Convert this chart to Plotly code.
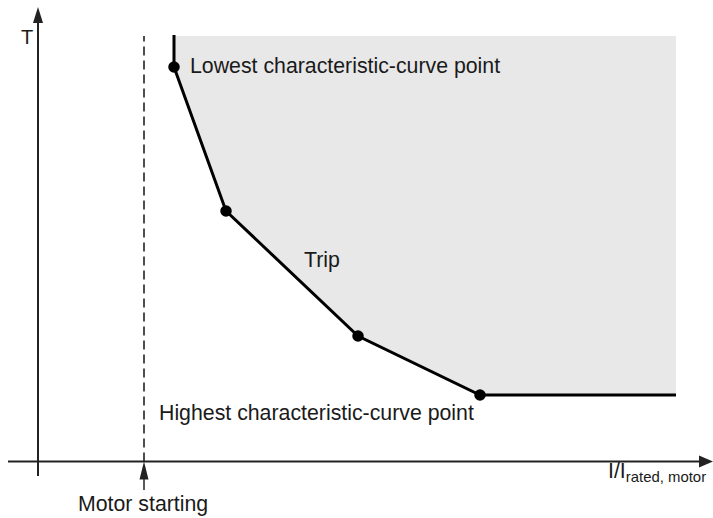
import plotly.graph_objects as go

# ---- data (schematic units; x = I/I_rated,motor, y = T) ----
curve_i = [174, 174, 226, 358, 480, 676]      # characteristic curve, current axis
curve_t = [483, 451, 307, 182, 123, 123]      # characteristic curve, time axis
point_i = [174, 226, 358, 480]                # characteristic-curve points
point_t = [451, 307, 182, 123]
trip_top_t = 482                              # upper limit of trip region
trip_right_i = 676                            # right limit of trip region
motor_start_i = 144                           # motor starting current

labels = {
    "lowest": "Lowest characteristic-curve point",
    "highest": "Highest characteristic-curve point",
    "trip": "Trip",
    "motor": "Motor starting",
    "t": "T",
    "i": "I/I<sub>rated, motor</sub>",
}

# ---- layout geometry ----
W, H = 713, 518
X0 = 38          # y-axis position
Y0 = 56.5        # x-axis position
FONT = "Liberation Sans, Arial, sans-serif"
TXT = "#1a1a1a"
AX = "#222222"

fig = go.Figure()

# trip region (grey)
fill_x = [curve_i[0]] + curve_i[1:] + [trip_right_i, trip_right_i]
fill_y = [trip_top_t] + curve_t[1:] + [curve_t[-1], trip_top_t]
fig.add_trace(go.Scatter(x=fill_x, y=fill_y, fill="toself", mode="none",
                         fillcolor="#e8e8e8", hoverinfo="skip", showlegend=False))

# curve
fig.add_trace(go.Scatter(x=curve_i, y=curve_t, mode="lines",
                         line=dict(color="#000000", width=3), showlegend=False))
# points
fig.add_trace(go.Scatter(x=point_i, y=point_t, mode="markers",
                         marker=dict(color="#000000", size=11.5), showlegend=False))

shapes = []
# axes lines
shapes.append(dict(type="line", x0=X0, x1=X0, y0=42, y1=497,
                   line=dict(color=AX, width=2)))
shapes.append(dict(type="line", x0=8, x1=701, y0=Y0, y1=Y0,
                   line=dict(color=AX, width=2)))
# axis arrowheads
shapes.append(dict(type="path", path=f"M {X0} 511 L {X0-5} 495 L {X0+5} 495 Z",
                   fillcolor=AX, line=dict(width=0)))
shapes.append(dict(type="path", path=f"M 713 {Y0} L 699 {Y0-6} L 699 {Y0+6} Z",
                   fillcolor=AX, line=dict(width=0)))
# dashed motor-starting line
shapes.append(dict(type="line", x0=motor_start_i, x1=motor_start_i, y0=Y0, y1=trip_top_t,
                   line=dict(color="#222222", width=1.6, dash="9px,5px")))
# motor starting arrow
shapes.append(dict(type="line", x0=motor_start_i, x1=motor_start_i, y0=28, y1=42,
                   line=dict(color=AX, width=1.5)))
shapes.append(dict(type="path",
                   path=f"M {motor_start_i} {Y0} L {motor_start_i-4.5} {Y0-18} L {motor_start_i+4.5} {Y0-18} Z",
                   fillcolor=AX, line=dict(width=0)))

ann = []
def txt(x, y, s, size=21.3):
    ann.append(dict(x=x, y=y, text=s, showarrow=False, xanchor="left", yanchor="middle",
                    font=dict(family=FONT, size=size, color=TXT)))

txt(188, 518 - 66, labels["lowest"])
txt(302, 518 - 260, labels["trip"])
txt(157, 518 - 413, labels["highest"])
txt(19, 518 - 37, labels["t"], 20)
txt(76, 518 - 504, labels["motor"])
txt(606, 518 - 472, labels["i"])

fig.update_layout(
    width=W, height=H, margin=dict(l=0, r=0, t=0, b=0),
    paper_bgcolor="white", plot_bgcolor="white",
    xaxis=dict(range=[0, W], visible=False, fixedrange=True),
    yaxis=dict(range=[0, H], visible=False, fixedrange=True),
    shapes=shapes, annotations=ann, showlegend=False,
)

fig.write_html("out.html", config={"displayModeBar": False},
               post_script="document.body.style.margin='0';document.body.style.overflow='hidden';")
